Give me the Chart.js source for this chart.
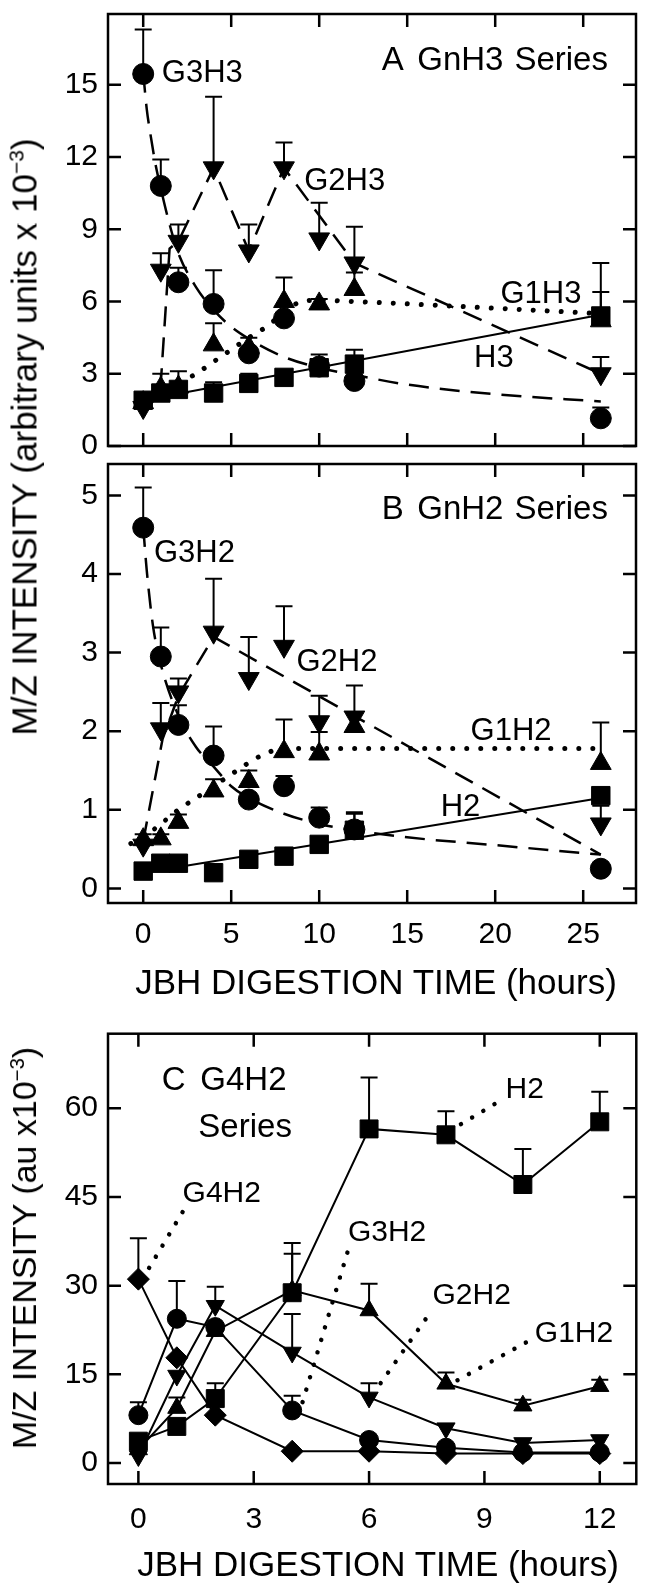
<!DOCTYPE html>
<html><head><meta charset="utf-8">
<script src="https://cdn.jsdelivr.net/npm/chart.js@4.4.1/dist/chart.umd.min.js"></script>
<style>
html,body{margin:0;padding:0;background:#fff;}
body{width:650px;height:1589px;position:relative;overflow:hidden;font-family:"Liberation Sans",Arial,Helvetica,sans-serif;}
canvas{position:absolute;left:0;}
.t{position:absolute;white-space:nowrap;color:#000;line-height:1;}
.rot{transform:translate(-50%,-50%) rotate(-90deg);}
.hz{transform:translate(-50%,-50%);}
sup{font-size:0.6em;vertical-align:baseline;position:relative;top:-0.6em;}
</style></head><body>
<canvas id="ca" width="650" height="460" style="top:0px"></canvas>
<canvas id="cb" width="650" height="510" style="top:450px"></canvas>
<canvas id="cc" width="650" height="569" style="top:1020px"></canvas>
<div class="t rot" style="left:24px;top:437px;font-size:35px">M/Z INTENSITY (arbitrary units x 10<sup>−3</sup>)</div>
<div class="t hz" style="left:376px;top:981px;font-size:35px">JBH DIGESTION TIME (hours)</div>
<div class="t rot" style="left:24px;top:1248px;font-size:34px">M/Z INTENSITY (au x10<sup>−3</sup>)</div>
<div class="t hz" style="left:378px;top:1563px;font-size:35px">JBH DIGESTION TIME (hours)</div>
<script>
// ---------- tick labels ----------
const xTicksAB = [0, 5, 10, 15, 20, 25];
const yTicksA = [0, 3, 6, 9, 12, 15];
const yTicksB = [0, 1, 2, 3, 4, 5];
const xTicksC = [0, 3, 6, 9, 12];
const yTicksC = [0, 15, 30, 45, 60];

// ---------- panel A (GnH3 series) ----------
const timesAB = [0, 1, 2, 4, 6, 8, 10, 12, 26];
const A_G3H3 = [15.45, 10.8, 6.8, 5.9, 3.85, 5.3, 3.3, 2.7, 1.15];
const A_G3H3_err = [17.3, 11.9, 7.4, 7.3, 4.5, null, null, null, 1.6];
const A_G2H3 = [1.6, 7.3, 8.5, 11.55, 8.1, 11.55, 8.6, 7.6, 3.0];
const A_G2H3_err = [null, 8.0, 9.2, 14.5, 9.2, 12.6, 10.1, 9.1, 3.7];
const A_G1H3 = [1.8, 2.4, 2.45, 4.2, 4.1, 6.0, 5.9, 6.5, 5.2];
const A_G1H3_err = [null, 3.0, 3.1, 5.1, null, 7.0, 6.1, 7.2, 7.6];
const A_H3 = [1.9, 2.2, 2.35, 2.2, 2.6, 2.85, 3.25, 3.4, 5.4];
const A_H3_err = [null, null, null, 2.65, 3.0, null, 3.8, 4.0, 6.4];
// fitted curves, panel A
const fitA_G3H3_x = [0, 0.2, 0.4, 0.7, 1, 1.5, 2, 3, 4, 5, 6, 8, 10, 12, 15, 20, 26];
const fitA_G3H3_y = [15.5, 14.0, 13.0, 11.7, 10.7, 9.2, 8.0, 6.6, 5.65, 4.95, 4.45, 3.7, 3.25, 2.95, 2.55, 2.15, 1.85];
const fitA_G2H3_x = [0.98, 1.5, 2, 4, 6, 8, 12, 26];
const fitA_G2H3_y = [2.4, 8.2, 8.5, 11.55, 8.1, 11.55, 7.6, 3.0];
const fitA_G1H3_x = [0, 1, 2, 3, 4, 5, 6, 7, 8, 9, 10, 12, 26];
const fitA_G1H3_y = [1.8, 2.2, 2.6, 3.0, 3.5, 4.0, 4.5, 4.95, 5.55, 6.0, 6.05, 6.0, 5.5];
const fitA_H3_x = [0, 26];
const fitA_H3_y = [1.9, 5.45];

// ---------- panel B (GnH2 series) ----------
const B_G3H2 = [4.59, 2.95, 2.08, 1.69, 1.13, 1.3, 0.9, 0.75, 0.25];
const B_G3H2_err = [5.1, 3.32, 2.33, 2.06, null, 1.43, 1.03, 0.95, null];
const B_G2H2 = [0.55, 2.03, 2.5, 3.26, 2.67, 3.08, 2.12, 2.18, 0.82];
const B_G2H2_err = [null, 2.36, 2.67, 3.94, 3.2, 3.59, 2.45, 2.58, 1.05];
const B_G1H2 = [0.62, 0.63, 0.84, 1.24, 1.36, 1.74, 1.71, 2.06, 1.59];
const B_G1H2_err = [0.69, 0.69, 0.94, 1.39, 1.5, 2.15, 1.99, null, 2.11];
const B_H2 = [0.22, 0.32, 0.32, 0.2, 0.37, 0.41, 0.56, 0.74, 1.18];
const B_H2_err = [null, null, null, null, null, null, null, 0.97, null];
const fitB_G3H2_x = [0, 0.2, 0.55, 1, 2, 3, 4, 5, 6, 8, 10, 12, 15, 20, 26];
const fitB_G3H2_y = [4.6, 4.05, 3.35, 2.85, 2.2, 1.8, 1.55, 1.3, 1.15, 0.95, 0.82, 0.74, 0.65, 0.55, 0.43];
const fitB_G2H2_x = [0, 1.1, 2, 4, 26];
const fitB_G2H2_y = [0.6, 1.9, 2.45, 3.2, 0.43];
const fitB_G1H2_x = [-0.7, 0, 1, 2, 3, 4, 5, 6, 7, 8, 26];
const fitB_G1H2_y = [0.57, 0.65, 0.82, 1.0, 1.15, 1.3, 1.45, 1.6, 1.72, 1.78, 1.78];
const fitB_H2_x = [0, 26];
const fitB_H2_y = [0.2, 1.15];

// ---------- panel C (G4H2 series) ----------
const timesC = [0, 1, 2, 4, 6, 8, 10, 12];
const C_H2 = [3.7, 6.2, 10.9, 28.8, 56.5, 55.5, 47.1, 57.7];
const C_H2_err = [null, null, 13.5, 35.4, 65.2, 59.5, 53.1, 62.8];
const C_G1H2 = [2.3, 9.3, 22.3, 29.2, 25.8, 13.4, 9.7, 13.0];
const C_G1H2_err = [null, 11.1, null, 37.2, 30.3, 15.3, 10.7, 14.1];
const C_G2H2 = [1.2, 14.8, 26.6, 18.7, 11.1, 5.9, 3.4, 3.9];
const C_G2H2_err = [null, null, 29.8, 25.2, 13.5, null, null, null];
const C_G3H2 = [8.1, 24.4, 23.0, 8.9, 3.9, 2.6, 1.8, 1.8];
const C_G3H2_err = [10.3, 30.8, null, 11.4, null, null, null, null];
const C_G4H2 = [31.1, 17.8, 8.1, 2.0, 2.0, 1.6, 1.6, 1.6];
const C_G4H2_err = [38.0, null, null, null, null, null, null, null];
// dotted label leaders, panel C
const leadC_G4H2_x = [0.28, 1.2], leadC_G4H2_y = [33.0, 43.0];
const leadC_H2_x = [8.39, 9.29], leadC_H2_y = [57.3, 60.8];
const leadC_G3H2_x = [4.27, 5.45], leadC_G3H2_y = [10.3, 35.9];
const leadC_G2H2_x = [6.3, 7.65], leadC_G2H2_y = [13.5, 26.0];
const leadC_G1H2_x = [8.3, 10.25], leadC_G1H2_y = [14.0, 21.0];

// ---------- text labels inside plots (s = font size) ----------
const notesA = [
  {x: 1.06, y: 15.47, t: 'G3H3', s: 31}, {x: 13.56, y: 15.99, t: 'A', s: 33}, {x: 15.57, y: 15.99, t: 'GnH3', s: 33},
  {x: 21.09, y: 15.99, t: 'Series', s: 33},
  {x: 9.15, y: 11.0, t: 'G2H3', s: 31}, {x: 20.3, y: 6.3, t: 'G1H3', s: 31}, {x: 18.8, y: 3.63, t: 'H3', s: 31}
];
const notesB = [
  {x: 13.56, y: 4.81, t: 'B', s: 33}, {x: 15.57, y: 4.81, t: 'GnH2', s: 33}, {x: 21.09, y: 4.81, t: 'Series', s: 33},
  {x: 0.61, y: 4.26, t: 'G3H2', s: 31},
  {x: 8.71, y: 2.87, t: 'G2H2', s: 31}, {x: 18.6, y: 2.0, t: 'G1H2', s: 31}, {x: 16.9, y: 1.03, t: 'H2', s: 31}
];
const notesC = [
  {x: 0.61, y: 64.6, t: 'C', s: 33}, {x: 1.61, y: 64.6, t: 'G4H2', s: 33}, {x: 1.56, y: 56.6, t: 'Series', s: 33},
  {x: 1.15, y: 45.5, t: 'G4H2', s: 30}, {x: 9.55, y: 63.2, t: 'H2', s: 30}, {x: 5.45, y: 38.9, t: 'G3H2', s: 30},
  {x: 7.65, y: 28.3, t: 'G2H2', s: 30}, {x: 10.31, y: 21.9, t: 'G1H2', s: 30}
];

// ---------- helpers ----------
const FONT = '"Liberation Sans", Arial, Helvetica, sans-serif';
function pts(xs, ys) { return xs.map((x, i) => ({x: x, y: ys[i]})).filter(p => p.y != null); }
function markers(xs, ys, style, rot, r) {
  return {type: 'scatter', data: pts(xs, ys), pointStyle: style, rotation: rot, pointRadius: r, pointHoverRadius: r,
    backgroundColor: '#000', borderColor: '#000', borderWidth: 1, showLine: false};
}
function curve(xs, ys, kind, smooth) {
  const ds = {type: 'line', data: pts(xs, ys), borderColor: '#000', pointRadius: 0, fill: false, showLine: true,
    tension: 0, borderWidth: 2, borderCapStyle: 'butt'};
  if (smooth) ds.cubicInterpolationMode = 'monotone';
  if (kind === 'dash') { ds.borderDash = [20, 11]; ds.borderWidth = 2.5; }
  if (kind === 'dot') { ds.borderDash = [0.01, 14]; ds.borderWidth = 5; ds.borderCapStyle = 'round'; }
  if (kind === 'lead') { ds.borderDash = [0.01, 13]; ds.borderWidth = 4.5; ds.borderCapStyle = 'round'; }
  return ds;
}
const deco = {
  id: 'deco',
  beforeDatasetsDraw(chart, args, o) {
    const {ctx, scales: {x, y}} = chart;
    ctx.save(); ctx.strokeStyle = '#000'; ctx.lineWidth = 2;
    o.errs.forEach(e => e.xs.forEach((xv, i) => {
      const top = e.tops[i]; if (top == null || e.ys[i] == null) return;
      const px = x.getPixelForValue(xv), p0 = y.getPixelForValue(e.ys[i]), p1 = y.getPixelForValue(top);
      ctx.beginPath(); ctx.moveTo(px, p0); ctx.lineTo(px, p1);
      ctx.moveTo(px - 8.5, p1); ctx.lineTo(px + 8.5, p1); ctx.stroke();
    }));
    ctx.restore();
  },
  afterDraw(chart, args, o) {
    const {ctx, chartArea: a, scales: {x, y}} = chart;
    ctx.save(); ctx.strokeStyle = '#000'; ctx.lineWidth = 2.5; ctx.lineCap = 'square';
    ctx.strokeRect(a.left, a.top, a.right - a.left, a.bottom - a.top);
    const L = 13;
    ctx.beginPath();
    o.xt.forEach(v => { const p = x.getPixelForValue(v);
      ctx.moveTo(p, a.top); ctx.lineTo(p, a.top + L); ctx.moveTo(p, a.bottom); ctx.lineTo(p, a.bottom - L); });
    o.yt.forEach(v => { const p = y.getPixelForValue(v);
      ctx.moveTo(a.left, p); ctx.lineTo(a.left + L, p); ctx.moveTo(a.right, p); ctx.lineTo(a.right - L, p); });
    ctx.lineCap = 'butt'; ctx.stroke();
    ctx.fillStyle = '#000'; ctx.textAlign = 'left'; ctx.textBaseline = 'middle';
    o.notes.forEach(n => { ctx.font = n.s + 'px ' + FONT; ctx.fillText(n.t, x.getPixelForValue(n.x), y.getPixelForValue(n.y)); });
    ctx.restore();
  }
};
function xScale(min, max, tickVals, show, h, pad) {
  return {type: 'linear', min: min, max: max,
    afterBuildTicks: s => { s.ticks = tickVals.map(v => ({value: v})); },
    afterFit: s => { s.height = h; s.paddingLeft = 0; s.paddingRight = 0; },
    grid: {display: false, drawTicks: false}, border: {display: false},
    ticks: {display: show, padding: pad, color: '#000', font: {family: FONT, size: 30}, autoSkip: false, maxRotation: 0,
      callback: v => String(v)}};
}
function yScale(min, max, tickVals) {
  return {type: 'linear', min: min, max: max,
    afterBuildTicks: s => { s.ticks = tickVals.map(v => ({value: v})); },
    afterFit: s => { s.width = 108; s.paddingTop = 0; s.paddingBottom = 0; },
    grid: {display: false, drawTicks: false}, border: {display: false},
    ticks: {padding: 10, color: '#000', font: {family: FONT, size: 30}, autoSkip: false, callback: v => String(v)}};
}
function makeChart(id, datasets, scales, padding, decoOpts) {
  return new Chart(document.getElementById(id), {
    type: 'scatter',
    data: {datasets: datasets},
    options: {responsive: false, animation: false, devicePixelRatio: 1, events: [],
      layout: {padding: padding},
      scales: scales,
      plugins: {legend: {display: false}, tooltip: {enabled: false}, deco: decoOpts}},
    plugins: [deco]
  });
}

// ---------- panel A ----------
makeChart('ca', [
  markers(timesAB, A_H3, 'rect', 0, 13),
  markers(timesAB, A_G3H3, 'circle', 0, 10.5),
  markers(timesAB, A_G1H3, 'triangle', 0, 12),
  markers(timesAB, A_G2H3, 'triangle', 180, 12),
  curve(fitA_G3H3_x, fitA_G3H3_y, 'dash', true),
  curve(fitA_G2H3_x, fitA_G2H3_y, 'dash', false),
  curve(fitA_G1H3_x, fitA_G1H3_y, 'dot', true),
  curve(fitA_H3_x, fitA_H3_y, 'solid', false)
], {x: xScale(-2, 28, xTicksAB, false, 0, 0), y: yScale(0, 17.94, yTicksA)},
  {top: 3, bottom: 7, left: 0, right: 5},
  {xt: xTicksAB, yt: yTicksA, notes: notesA, errs: [
    {xs: timesAB, ys: A_G3H3, tops: A_G3H3_err}, {xs: timesAB, ys: A_G2H3, tops: A_G2H3_err},
    {xs: timesAB, ys: A_G1H3, tops: A_G1H3_err}, {xs: timesAB, ys: A_H3, tops: A_H3_err}]});

// ---------- panel B ----------
makeChart('cb', [
  markers(timesAB, B_H2, 'rect', 0, 13),
  markers(timesAB, B_G3H2, 'circle', 0, 10.5),
  markers(timesAB, B_G1H2, 'triangle', 0, 12),
  markers(timesAB, B_G2H2, 'triangle', 180, 12),
  curve(fitB_G3H2_x, fitB_G3H2_y, 'dash', true),
  curve(fitB_G2H2_x, fitB_G2H2_y, 'dash', false),
  curve(fitB_G1H2_x, fitB_G1H2_y, 'dot', true),
  curve(fitB_H2_x, fitB_H2_y, 'solid', false)
], {x: xScale(-2, 28, xTicksAB, true, 57, 14), y: yScale(-0.186, 5.4, yTicksB)},
  {top: 3, bottom: 0, left: 0, right: 5},
  {xt: xTicksAB, yt: yTicksB, notes: notesB, errs: [
    {xs: timesAB, ys: B_G3H2, tops: B_G3H2_err}, {xs: timesAB, ys: B_G2H2, tops: B_G2H2_err},
    {xs: timesAB, ys: B_G1H2, tops: B_G1H2_err}, {xs: timesAB, ys: B_H2, tops: B_H2_err}]});

// ---------- panel C ----------
makeChart('cc', [
  markers(timesC, C_H2, 'rect', 0, 12.7),
  markers(timesC, C_G1H2, 'triangle', 0, 10.5),
  markers(timesC, C_G2H2, 'triangle', 180, 10.5),
  markers(timesC, C_G3H2, 'circle', 0, 9.5),
  markers(timesC, C_G4H2, 'rectRot', 0, 11),
  curve(timesC, C_H2, 'solid', false),
  curve(timesC, C_G1H2, 'solid', false),
  curve(timesC, C_G2H2, 'solid', false),
  curve(timesC, C_G3H2, 'solid', false),
  curve(timesC, C_G4H2, 'solid', false),
  curve(leadC_G4H2_x, leadC_G4H2_y, 'lead', false),
  curve(leadC_H2_x, leadC_H2_y, 'lead', false),
  curve(leadC_G3H2_x, leadC_G3H2_y, 'lead', false),
  curve(leadC_G2H2_x, leadC_G2H2_y, 'lead', false),
  curve(leadC_G1H2_x, leadC_G1H2_y, 'lead', false)
], {x: xScale(-0.79, 12.95, xTicksC, true, 105, 18), y: yScale(-3.54, 72.6, yTicksC)},
  {top: 12, bottom: 0, left: 0, right: 5},
  {xt: xTicksC, yt: yTicksC, notes: notesC, errs: [
    {xs: timesC, ys: C_H2, tops: C_H2_err}, {xs: timesC, ys: C_G1H2, tops: C_G1H2_err},
    {xs: timesC, ys: C_G2H2, tops: C_G2H2_err}, {xs: timesC, ys: C_G3H2, tops: C_G3H2_err},
    {xs: timesC, ys: C_G4H2, tops: C_G4H2_err}]});
</script>
</body></html>
